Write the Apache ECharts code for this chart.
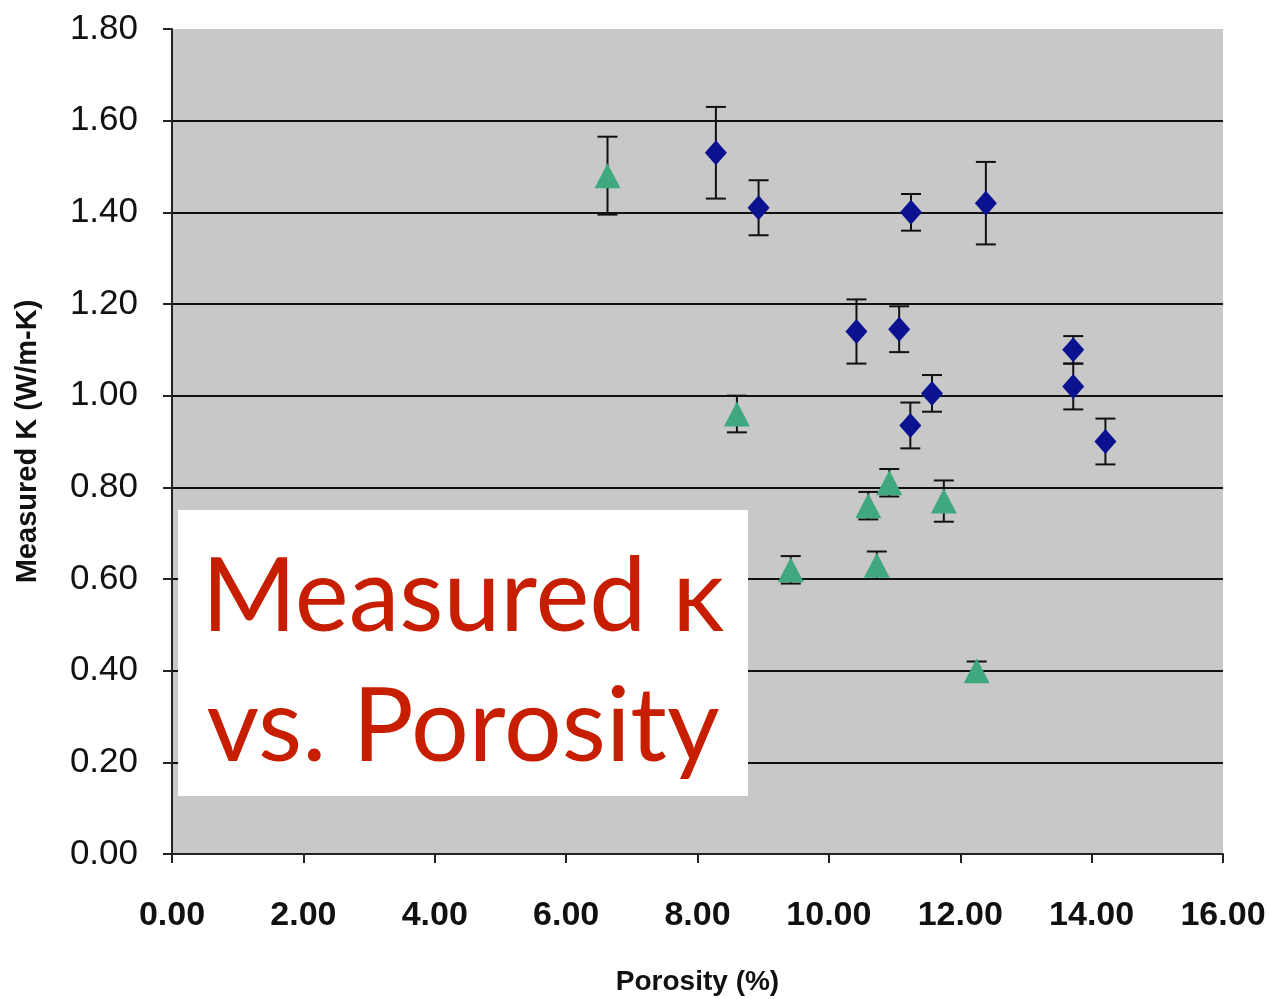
<!DOCTYPE html>
<html>
<head>
<meta charset="utf-8">
<script src="https://cdn.jsdelivr.net/npm/echarts@6/dist/echarts.min.js"></script>
<style>
  html, body { margin: 0; padding: 0; background: #ffffff; }
  #chart { width: 1269px; height: 999px; }
</style>
</head>
<body>
<div id="chart"></div>
<script>
// Series 1 (blue diamonds): porosity (%), measured k (W/m-K), error (+/-)
const blueX   = [8.28, 8.93, 11.25, 12.39, 10.42, 11.07, 11.57, 11.24, 13.72, 13.72, 14.21];
const blueY   = [1.53, 1.41, 1.40, 1.42, 1.14, 1.145, 1.005, 0.935, 1.10, 1.02, 0.90];
const blueErr = [0.10, 0.06, 0.04, 0.09, 0.07, 0.05, 0.04, 0.05, 0.03, 0.05, 0.05];

// Series 2 (green triangles)
const greenX   = [6.63, 8.60, 10.92, 10.60, 11.75, 9.42, 10.73, 12.25];
const greenY   = [1.48, 0.96, 0.81, 0.76, 0.77, 0.62, 0.63, 0.40];
const greenErr = [0.085, 0.04, 0.03, 0.03, 0.045, 0.03, 0.03, 0.02];

// Axes
const xTicks = { min: 0, max: 16, interval: 2 };
const yTicks = { min: 0, max: 1.8, interval: 0.2 };
const xName = 'Porosity (%)';
const yName = 'Measured K (W/m-K)';
const titleLines = ['Measured \u03BA', 'vs. Porosity'];

const chart = echarts.init(document.getElementById('chart'), null, { renderer: 'canvas' });

function pts(xs, ys) { return xs.map((x, i) => [x, ys[i]]); }
function errData(xs, ys, es) { return xs.map((x, i) => [x, ys[i] - es[i], ys[i] + es[i]]); }

function errRender(params, api) {
  const x = api.value(0);
  const lo = api.coord([x, api.value(1)]);
  const hi = api.coord([x, api.value(2)]);
  const hw = 10;
  const style = { stroke: '#111111', lineWidth: 2 };
  return {
    type: 'group',
    children: [
      { type: 'line', shape: { x1: lo[0], y1: lo[1], x2: hi[0], y2: hi[1] }, style: style },
      { type: 'line', shape: { x1: lo[0] - hw, y1: lo[1], x2: lo[0] + hw, y2: lo[1] }, style: style },
      { type: 'line', shape: { x1: hi[0] - hw, y1: hi[1], x2: hi[0] + hw, y2: hi[1] }, style: style }
    ]
  };
}

const boldFont = 'Liberation Sans, Arial, sans-serif';

chart.setOption({
  animation: false,
  grid: {
    left: 172, right: 46, top: 29, bottom: 145,
    outerBoundsMode: 'none', containLabel: false,
    show: true, backgroundColor: '#c8c8c8', borderWidth: 0
  },
  xAxis: {
    type: 'value',
    min: xTicks.min, max: xTicks.max, interval: xTicks.interval,
    name: xName, nameLocation: 'middle', nameGap: 114,
    nameTextStyle: { fontFamily: boldFont, fontWeight: 'bold', fontSize: 28, color: '#111' },
    axisLine: { show: true, onZero: false, lineStyle: { color: '#222', width: 2 } },
    axisTick: { show: true, length: 9, lineStyle: { color: '#222', width: 2 } },
    axisLabel: {
      margin: 45, fontFamily: boldFont, fontWeight: 'bold', fontSize: 34, color: '#111',
      formatter: v => v.toFixed(2)
    },
    splitLine: { show: false }
  },
  yAxis: {
    type: 'value',
    min: yTicks.min, max: yTicks.max, interval: yTicks.interval,
    name: yName, nameLocation: 'middle', nameGap: 130, nameRotate: 90,
    nameTextStyle: { fontFamily: boldFont, fontWeight: 'bold', fontSize: 29, color: '#111' },
    axisLine: { show: true, onZero: false, lineStyle: { color: '#222', width: 2 } },
    axisTick: { show: true, length: 9, lineStyle: { color: '#222', width: 2 } },
    axisLabel: {
      margin: 34, fontFamily: 'Liberation Sans, Arial, sans-serif', fontSize: 35, color: '#111',
      formatter: v => v.toFixed(2)
    },
    splitLine: { show: true, showMaxLine: false, lineStyle: { color: '#111', width: 2 } }
  },
  series: [
    {
      type: 'custom', name: 'blueErr', renderItem: errRender,
      data: errData(blueX, blueY, blueErr), z: 2, encode: { x: 0, y: [1, 2] }
    },
    {
      type: 'custom', name: 'greenErr', renderItem: errRender,
      data: errData(greenX, greenY, greenErr), z: 2, encode: { x: 0, y: [1, 2] }
    },
    {
      type: 'scatter', name: 'blue', data: pts(blueX, blueY),
      symbol: 'diamond', symbolSize: [22, 25],
      itemStyle: { color: '#0a1290', opacity: 1 }, z: 3
    },
    {
      type: 'scatter', name: 'green', data: pts(greenX, greenY),
      symbol: 'triangle', symbolSize: [26, 25],
      itemStyle: { color: '#3fa87e', opacity: 1 }, z: 3
    }
  ],
  graphic: [
    {
      type: 'group', left: 178, top: 510, zlevel: 1, z: 100,
      children: [
        { type: 'rect', zlevel: 1, z: 100, shape: { x: 0, y: 0, width: 570, height: 286 }, style: { fill: '#ffffff' } },
        {
          type: 'text', zlevel: 1, z: 101, x: 285, y: 139,
          style: {
            text: titleLines[0], fill: '#c81e00',
            font: '102px Lato, "Noto Sans", sans-serif',
            textAlign: 'center', textVerticalAlign: 'bottom'
          }
        },
        {
          type: 'text', zlevel: 1, z: 101, x: 285, y: 269,
          style: {
            text: titleLines[1], fill: '#c81e00',
            font: '102px Lato, "Noto Sans", sans-serif',
            textAlign: 'center', textVerticalAlign: 'bottom'
          }
        }
      ]
    }
  ]
});
</script>
</body>
</html>
